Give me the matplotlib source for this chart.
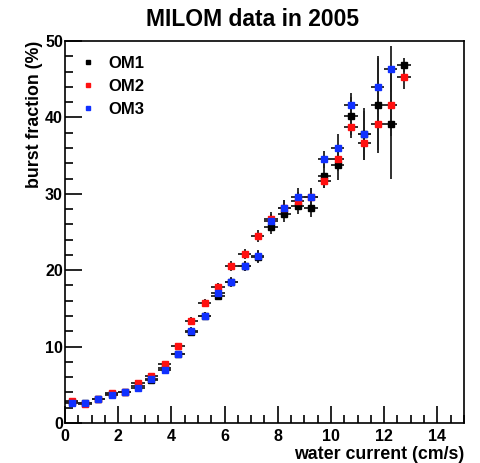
import numpy as np
import matplotlib
matplotlib.use("Agg")
import matplotlib.pyplot as plt
from matplotlib.ticker import MultipleLocator

plt.rcParams['font.family'] = ['Liberation Sans', 'DejaVu Sans']
plt.rcParams['font.weight'] = 'bold'

# water current bins (cm/s), 0.5 wide
bin_centers = np.arange(0.25, 13.0, 0.5)
bin_halfwidth = 0.25

om1 = [2.8, 2.6, 3.2, 3.8, 4.1, 4.8, 5.6, 7.2, 9.0, 11.95, 14.0, 16.6, 18.4,
       20.5, 21.7, 25.7, 27.3, 28.45, 28.2, 32.3, 33.8, 40.2, 37.8, 41.6, 39.2, 46.9]
om1_err = [0.2, 0.2, 0.2, 0.2, 0.2, 0.25, 0.3, 0.35, 0.4, 0.45, 0.5, 0.55, 0.6,
           0.65, 0.8, 0.9, 1.0, 1.1, 1.2, 1.6, 2.0, 2.5, 3.0, 6.2, 7.2, 0.9]

om2 = [2.9, 2.5, 3.2, 3.9, 4.1, 5.2, 6.15, 7.7, 10.1, 13.4, 15.75, 17.75, 20.55,
       22.1, 24.5, 26.7, 28.2, 29.1, 29.6, 31.7, 34.5, 38.75, 36.6, 39.2, 41.6, 45.3]
om2_err = [0.2, 0.2, 0.2, 0.2, 0.2, 0.25, 0.3, 0.35, 0.4, 0.45, 0.5, 0.55, 0.6,
           0.65, 0.8, 0.9, 1.0, 1.1, 1.2, 1.0, 1.5, 1.5, 2.2, 3.5, 4.0, 1.6]

om3 = [2.6, 2.66, 3.2, 3.66, 4.1, 4.6, 5.7, 6.9, 9.0, 12.1, 14.05, 17.0, 18.5,
       20.6, 21.85, 26.4, 28.2, 29.6, 29.6, 34.5, 35.95, 41.6, 37.8, 44.0, 46.3, np.nan]
om3_err = [0.2, 0.2, 0.2, 0.2, 0.2, 0.25, 0.3, 0.35, 0.4, 0.45, 0.5, 0.55, 0.6,
           0.65, 0.8, 0.9, 1.0, 1.1, 1.1, 1.1, 1.9, 1.6, 3.4, 4.0, 3.0, np.nan]

series = [("OM1", om1, om1_err, "black"),
          ("OM2", om2, om2_err, "#ff1010"),
          ("OM3", om3, om3_err, "#1030ff")]

fig = plt.figure(figsize=(4.81, 4.63), dpi=100)
ax = fig.add_axes([0.1351, 0.0864, 0.8295, 0.825])

for name, vals, errs, col in series:
    ax.errorbar(bin_centers, vals, yerr=errs, xerr=bin_halfwidth, fmt='none',
                ecolor='#202020', elinewidth=1.3, capsize=0, zorder=2)
for i, (name, vals, errs, col) in enumerate(series):
    ax.plot(bin_centers, vals, ls='none', marker='s', ms=5, mfc=col, mec=col,
            label=name, zorder=3 + i)

ax.set_xlim(0, 15)
ax.set_ylim(0, 50)
ax.xaxis.set_major_locator(MultipleLocator(2))
ax.xaxis.set_minor_locator(MultipleLocator(0.5))
ax.yaxis.set_major_locator(MultipleLocator(10))
ax.yaxis.set_minor_locator(MultipleLocator(2))
ax.tick_params(which='both', direction='in', top=False, right=False,
               width=1.2, labelsize=11.5)
ax.tick_params(which='major', length=12)
ax.tick_params(which='minor', length=6)
ax.tick_params(axis='y', pad=1.5)
ax.tick_params(axis='x', pad=4)
for lab in ax.get_xticklabels() + ax.get_yticklabels():
    lab.set_fontweight('bold')
for s in ax.spines.values():
    s.set_linewidth(1.2)

fig.text(253 / 481, 1 - 26 / 463, "MILOM data in 2005", fontsize=16.5,
         fontweight='bold', ha='center', va='baseline')
ax.set_xlabel("water current (cm/s)", fontsize=12.8, fontweight='bold', loc='right')
ax.set_ylabel("burst fraction (%)", fontsize=12.8, fontweight='bold', loc='top')
ax.xaxis.set_label_coords(1.0, -0.061)
ax.yaxis.set_label_coords(-0.055, 1.0)

leg = ax.legend(loc='upper left', bbox_to_anchor=(-0.005, 1.001), frameon=False,
                markerscale=0.7, handlelength=1.2, handletextpad=0.6,
                labelspacing=0.5, prop={'weight': 'bold', 'size': 12})

fig.savefig("out.png", dpi=100)
